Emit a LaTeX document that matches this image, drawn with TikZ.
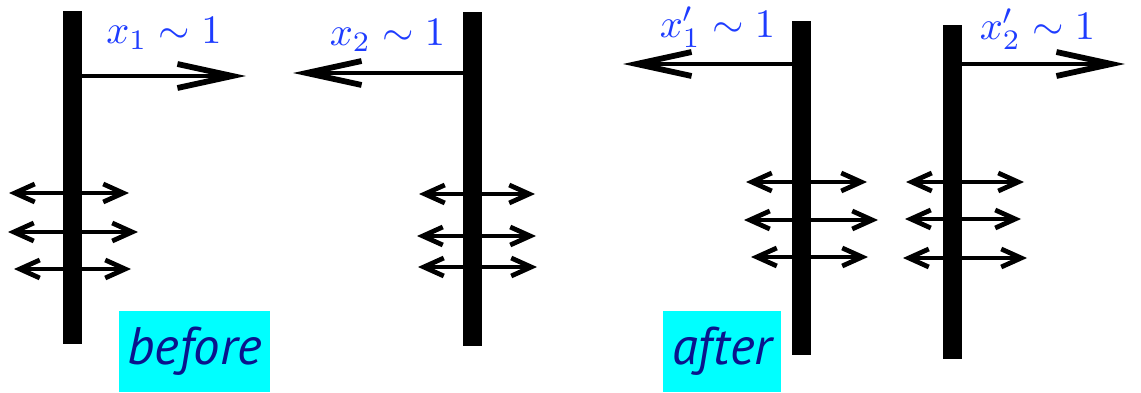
\documentclass[tikz,border=0pt]{standalone}
\usepackage{fontspec}
\newfontfamily\tagfont{PT Sans}
\definecolor{labblue}{HTML}{1E3CFF}
\definecolor{tagnavy}{HTML}{0A148C}
\definecolor{tagcyan}{HTML}{00FFFF}
\usetikzlibrary{positioning,arrows.meta}

\begin{document}
\begin{tikzpicture}[
  x=0.02cm, y=-0.02cm,
  bar/.style={fill=black, inner sep=0pt, minimum width=0.38cm, minimum height=6.68cm},
  big/.style={-{Straight Barb[length=11mm, width=4.8mm, line width=3.3pt]}, line width=2.3pt},
  dbl/.style={{Straight Barb[length=4mm, width=3.6mm, line width=2.7pt]}-{Straight Barb[length=4mm, width=3.6mm, line width=2.7pt]}, line width=2pt},
  lab/.style={text=labblue, anchor=base, inner sep=0pt, scale=2.3},
  tag/.style={fill=tagcyan, text=tagnavy, inner sep=0pt, minimum height=1.62cm, font=\tagfont\itshape\fontsize{30}{34}\selectfont},
]
  \useasboundingbox (0,0) rectangle (1141,392);
  % walls before
  \node[bar] (b1) at (72.5,177.5) {};
  \node[bar] (b2) at (472.5,179) {};
  % walls after
  \node[bar] (b3) at (801.5,188) {};
  \node[bar] (b4) at (952,192) {};

  % big pushes
  \coordinate (t1) at (246,76);  \coordinate (t2) at (293,73);
  \coordinate (t3) at (623,64);  \coordinate (t4) at (1125,64);
  \draw[big] (b1.east |- t1) -- (t1);
  \draw[big] (b2.west |- t2) -- (t2);
  \draw[big] (b3.west |- t3) -- (t3);
  \draw[big] (b4.east |- t4) -- (t4);
  \node[lab] (x1) at (164,43)    {$x_1\sim1$};
  \node[lab] (x2) at (387.5,45)  {$x_2\sim1$};
  \node[lab] (x3) at (717.5,37)  {$x'_1\sim1$};
  \node[lab] (x4) at (1037.5,39) {$x'_2\sim1$};

  % small fluctuations
  \coordinate (l1a) at (9,193);   \coordinate (r1a) at (129,193);
  \coordinate (l1b) at (8,232);   \coordinate (r1b) at (138,232);
  \coordinate (l1c) at (14,269);  \coordinate (r1c) at (131,269);
  \coordinate (l2a) at (419,194); \coordinate (r2a) at (535,194);
  \coordinate (l2b) at (417,236); \coordinate (r2b) at (536,236);
  \coordinate (l2c) at (418,267); \coordinate (r2c) at (537,267);
  \coordinate (l3a) at (746,182); \coordinate (r3a) at (867,182);
  \coordinate (l3b) at (744,220); \coordinate (r3b) at (878,220);
  \coordinate (l3c) at (751,257); \coordinate (r3c) at (868,257);
  \coordinate (l4a) at (906,182); \coordinate (r4a) at (1024,182);
  \coordinate (l4b) at (905,219); \coordinate (r4b) at (1021,219);
  \coordinate (l4c) at (903,258); \coordinate (r4c) at (1027,258);
  \draw[dbl] (l1a) -- (r1a); \draw[dbl] (l1b) -- (r1b); \draw[dbl] (l1c) -- (r1c);
  \draw[dbl] (l2a) -- (r2a); \draw[dbl] (l2b) -- (r2b); \draw[dbl] (l2c) -- (r2c);
  \draw[dbl] (l3a) -- (r3a); \draw[dbl] (l3b) -- (r3b); \draw[dbl] (l3c) -- (r3c);
  \draw[dbl] (l4a) -- (r4a); \draw[dbl] (l4b) -- (r4b); \draw[dbl] (l4c) -- (r4c);
  \node[bar] at (b1) {}; \node[bar] at (b2) {};
  \node[bar] at (b3) {}; \node[bar] at (b4) {};

  % tags
  \node[tag, minimum width=3.02cm] (bef) at (194.5,351.5) {before};
  \node[tag, minimum width=2.36cm] (aft) at (722,351.5) {after};
\end{tikzpicture}
\end{document}
